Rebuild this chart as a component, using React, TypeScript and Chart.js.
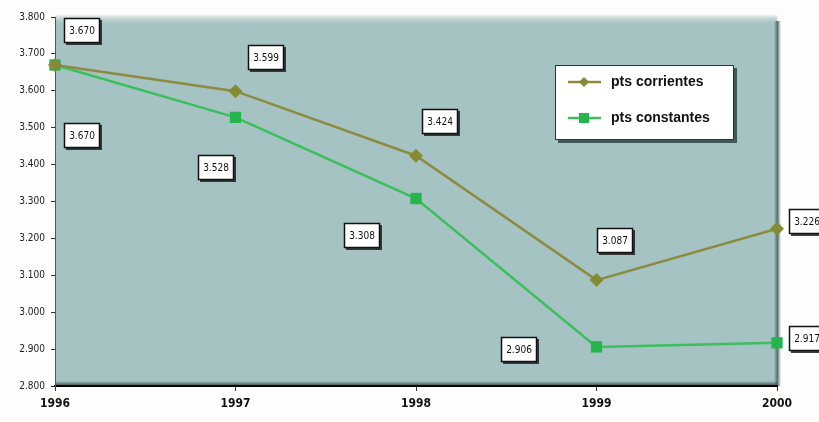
import React, { useEffect, useRef } from "react";
import { Chart, registerables } from "chart.js";

Chart.register(...registerables);

const years = ["1996", "1997", "1998", "1999", "2000"];
const corrientes = [3670, 3599, 3424, 3087, 3226];
const constantes = [3670, 3528, 3308, 2906, 2917];
const corrientesLabel = "pts corrientes";
const constantesLabel = "pts constantes";
// label box offsets relative to each point (px)
const corrientesOffsets = [[27, -34], [30, -34], [24, -34], [18, -40], [30, -7]];
const constantesOffsets = [[27, 71], [-20, 50], [-54, 37], [-78, 3], [30, -4]];

const OLIVE = "#858b35";
const OLIVE_LINE = "#8c8c40";
const GREEN = "#25b44e";
const GREEN_LINE = "#3cbe5c";
const TEAL = "#a6c3c3";
const NARROW = '"Liberation Sans Narrow", "DejaVu Sans Condensed", "Liberation Sans", sans-serif';

const fmt = (v: number) => {
  const s = String(Math.round(v));
  return s.slice(0, s.length - 3) + "." + s.slice(s.length - 3);
};

const bgPlugin = {
  id: "bgPlugin",
  beforeDraw(chart: any) {
    const { ctx, chartArea: a, width, height } = chart;
    ctx.save();
    ctx.fillStyle = "#fdfdfb";
    ctx.fillRect(0, 0, width, height);
    ctx.fillStyle = TEAL;
    ctx.fillRect(a.left, a.top - 2, a.right - a.left, a.bottom - a.top + 2);
    const g = ctx.createLinearGradient(0, a.top - 3, 0, a.top + 8);
    g.addColorStop(0, "rgba(253,253,251,1)");
    g.addColorStop(1, "rgba(166,195,195,0)");
    ctx.fillStyle = g;
    ctx.fillRect(a.left, a.top - 3, a.right - a.left, 11);
    const gr = ctx.createLinearGradient(a.right - 3, 0, a.right + 4, 0);
    gr.addColorStop(0, "rgba(70,100,100,0)");
    gr.addColorStop(0.5, "rgba(70,100,100,0.9)");
    gr.addColorStop(1, "rgba(70,100,100,0)");
    ctx.fillStyle = gr;
    ctx.fillRect(a.right - 3, a.top + 4, 7, a.bottom - a.top - 4);
    const gb = ctx.createLinearGradient(0, a.bottom - 5, 0, a.bottom);
    gb.addColorStop(0, "rgba(20,40,40,0)");
    gb.addColorStop(1, "rgba(20,40,40,0.8)");
    ctx.fillStyle = gb;
    ctx.fillRect(a.left, a.bottom - 5, a.right - a.left, 5);
    ctx.restore();
  },
};

function drawBox(ctx: CanvasRenderingContext2D, cx: number, cy: number, text: string) {
  const w = 36, h = 25;
  const x = Math.round(cx - w / 2), y = Math.round(cy - h / 2);
  ctx.fillStyle = "rgba(30,30,30,0.85)";
  ctx.fillRect(x + 2, y + 2, w, h);
  ctx.fillStyle = "#ffffff";
  ctx.fillRect(x, y, w, h);
  ctx.strokeStyle = "#111";
  ctx.lineWidth = 1.5;
  ctx.strokeRect(x + 0.5, y + 0.5, w - 1, h - 1);
  ctx.fillStyle = "#111";
  ctx.font = `10px ${NARROW}`;
  ctx.textAlign = "center";
  ctx.textBaseline = "middle";
  ctx.fillText(text, x + w / 2, y + h / 2 + 1);
}

const labelPlugin = {
  id: "labelPlugin",
  afterDraw(chart: any) {
    const { ctx } = chart;
    ctx.save();
    const sets = [
      { idx: 0, data: corrientes, off: corrientesOffsets },
      { idx: 1, data: constantes, off: constantesOffsets },
    ];
    sets.forEach((s) => {
      const meta = chart.getDatasetMeta(s.idx);
      meta.data.forEach((pt: any, i: number) => {
        drawBox(ctx, pt.x + s.off[i][0], pt.y + s.off[i][1], fmt(s.data[i]));
      });
    });
    // legend
    const lx = 555, ly = 65, lw = 179, lh = 75;
    ctx.fillStyle = "rgba(40,60,60,0.8)";
    ctx.fillRect(lx + 3, ly + 3, lw, lh);
    ctx.fillStyle = "#ffffff";
    ctx.fillRect(lx, ly, lw, lh);
    ctx.strokeStyle = "#333";
    ctx.lineWidth = 1;
    ctx.strokeRect(lx + 0.5, ly + 0.5, lw - 1, lh - 1);
    const rows = [
      { y: 82, color: OLIVE_LINE, mk: OLIVE, shape: "diamond", text: corrientesLabel },
      { y: 118, color: GREEN_LINE, mk: GREEN, shape: "square", text: constantesLabel },
    ];
    rows.forEach((r) => {
      ctx.strokeStyle = r.color;
      ctx.lineWidth = 2.5;
      ctx.beginPath();
      ctx.moveTo(568, r.y);
      ctx.lineTo(601, r.y);
      ctx.stroke();
      ctx.fillStyle = r.mk;
      if (r.shape === "diamond") {
        ctx.beginPath();
        ctx.moveTo(584, r.y - 5);
        ctx.lineTo(589, r.y);
        ctx.lineTo(584, r.y + 5);
        ctx.lineTo(579, r.y);
        ctx.closePath();
        ctx.fill();
      } else {
        ctx.fillRect(579, r.y - 5, 10, 10);
      }
      ctx.fillStyle = "#111";
      ctx.font = `bold 14px "Liberation Sans", Arial, sans-serif`;
      ctx.textAlign = "left";
      ctx.textBaseline = "middle";
      ctx.fillText(r.text, 611, r.y);
    });
    ctx.restore();
  },
};

export default function App() {
  const ref = useRef<HTMLCanvasElement>(null);
  useEffect(() => {
    document.body.style.margin = "0";
    const chart = new Chart(ref.current!, {
      type: "line",
      data: {
        labels: years,
        datasets: [
          {
            label: corrientesLabel,
            data: corrientes,
            borderColor: OLIVE_LINE,
            backgroundColor: OLIVE,
            borderWidth: 2.5,
            pointStyle: "rectRot",
            pointRadius: 7,
            pointBorderWidth: 0,
            tension: 0,
          },
          {
            label: constantesLabel,
            data: constantes,
            borderColor: GREEN_LINE,
            backgroundColor: GREEN,
            borderWidth: 2.5,
            pointStyle: "rect",
            pointRadius: 8,
            pointBorderWidth: 0,
            tension: 0,
          },
        ],
      },
      options: {
        responsive: false,
        animation: false,
        layout: { padding: { top: 17, right: 42, left: 0, bottom: 0 } },
        plugins: { legend: { display: false }, tooltip: { enabled: false } },
        scales: {
          x: {
            offset: false,
            grid: { display: true, drawOnChartArea: false, drawTicks: true, tickLength: 5, color: "#333" },
            border: { color: "#000", width: 2 },
            ticks: {
              color: "#111",
              font: { family: NARROW, size: 12, weight: "bold" },
              padding: 6,
              maxRotation: 0,
            },
            afterFit: (s: any) => { s.height = 36; },
          },
          y: {
            min: 2800,
            max: 3800,
            grid: { display: true, drawOnChartArea: false, drawTicks: true, tickLength: 4, color: "#333" },
            border: { color: "#555", width: 1 },
            ticks: {
              stepSize: 100,
              color: "#222",
              font: { family: NARROW, size: 10 },
              padding: 6,
              callback: (v: any) => fmt(Number(v)),
            },
            afterFit: (s: any) => { s.width = 55; },
          },
        },
      },
      plugins: [bgPlugin, labelPlugin],
    });
    return () => chart.destroy();
  }, []);
  return <canvas ref={ref} width={819} height={422} />;
}
